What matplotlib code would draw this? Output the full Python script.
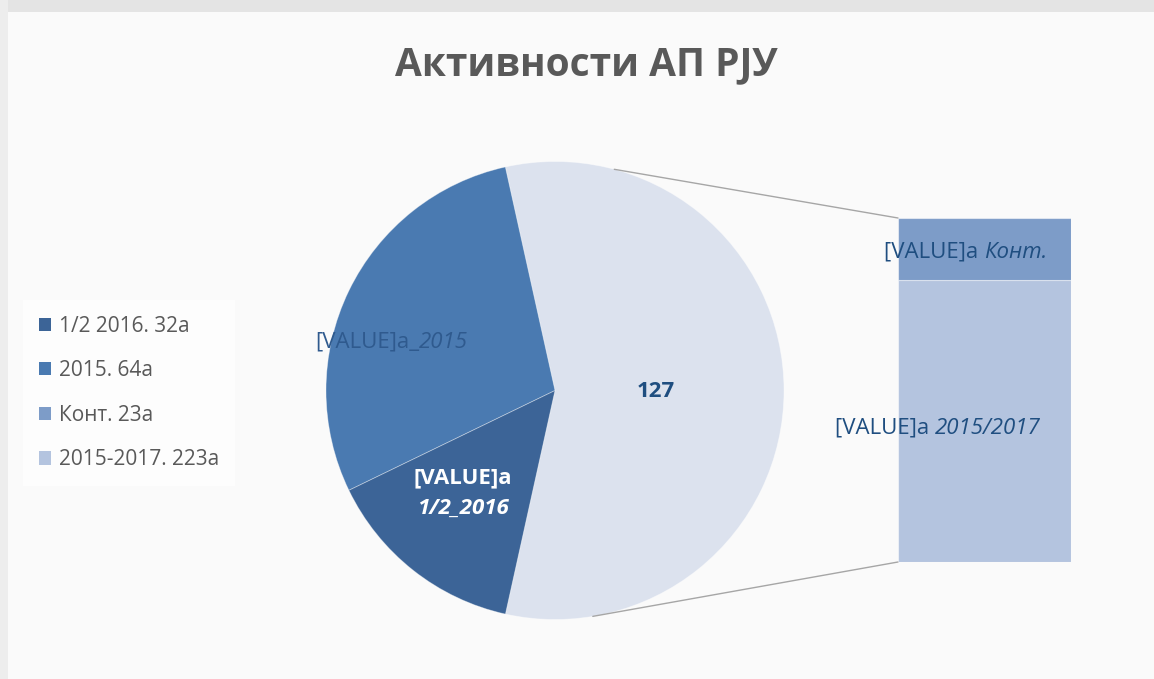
import matplotlib
matplotlib.use("Agg")
import matplotlib.pyplot as plt
from matplotlib.patches import Rectangle, ConnectionPatch, Patch
import numpy as np

plt.rcParams['font.family'] = ['Open Sans', 'DejaVu Sans']

# Data
title = "Активности АП РЈУ"
pie_labels = ["2015-2017", "2015", "1/2 2016"]
pie_values = [127, 64, 32]
bar_labels = ["2015/2017", "Конт."]
bar_values = [104, 23]
legend_labels = ["1/2 2016. 32а", "2015. 64а", "Конт. 23а", "2015-2017. 223а"]

c_1216 = "#3C6497"
c_2015 = "#4A7AB1"
c_kont = "#7D9CC8"
c_bar = "#B4C4DF"
c_other = "#DCE2EE"
txt_blue = "#1F4E80"

W, H = 1154, 679
fig = plt.figure(figsize=(W / 100, H / 100), dpi=100)
fig.patch.set_facecolor("#E4E4E4")

def fx(px):
    return px / W

def fy(py):
    return 1 - py / H

# panel background (drawn in a background axes)
bg = fig.add_axes([0, 0, 1, 1], zorder=-5)
bg.set_xlim(0, W)
bg.set_ylim(H, 0)
bg.axis("off")
bg.add_patch(Rectangle((8, 12), W - 8, H - 12, facecolor="#FAFAFA", edgecolor="none"))
bg.add_patch(Rectangle((0, 0), 8, H, facecolor="#EDEDED", edgecolor="none"))

# Pie axes
cx, cy, r = 555, 390.5, 229
ax = fig.add_axes([fx(cx - r), fy(cy + r), 2 * r / W, 2 * r / H])
wedges, _ = ax.pie(pie_values, colors=[c_other, c_2015, c_1216], startangle=-102.5,
                   counterclock=True, radius=1.0,
                   wedgeprops=dict(linewidth=0.6, edgecolor=(1, 1, 1, 0.4)))
ax.set_xlim(-1, 1)
ax.set_ylim(-1, 1)
ax.set_aspect("auto")
ax.axis("off")

# Bar axes
bx0, bx1, by0, by1 = 898, 1071, 218, 562
bax = fig.add_axes([fx(bx0), fy(by1), (bx1 - bx0) / W, (by1 - by0) / H])
bottom = 0
bar_colors = [c_bar, c_kont]
for v, c in zip(bar_values, bar_colors):
    bax.bar(0, v, bottom=bottom, width=1.0, color=c, edgecolor=(1, 1, 1, 0.5), linewidth=0.8)
    bottom += v
bax.set_xlim(-0.5, 0.5)
bax.set_ylim(0, sum(bar_values))
bax.axis("off")

# Connectors
for ang, yb in [(75, 1), (-80.5, 0)]:
    a = np.deg2rad(ang)
    con = ConnectionPatch(xyA=(np.cos(a), np.sin(a)), coordsA=ax.transData,
                          xyB=(0, yb), coordsB=bax.transAxes,
                          color="#A6A6A6", linewidth=1.0, zorder=1)
    fig.add_artist(con)

# Title
fig.text(fx(586), fy(65), title, ha="center", va="center", fontsize=28,
         fontweight="bold", color="#595959")

FS = 16

# Labels on pie
t1 = fig.text(fx(315), fy(342), "[VALUE]а_", ha="left", va="center", fontsize=FS, color="#2F5A8E")
fig.add_artist(plt.Annotation("2015", xy=(1, 0.5), xycoords=t1, va="center", ha="left",
                              fontsize=FS, color="#2F5A8E", style="italic"))

fig.text(fx(463), fy(478), "[VALUE]а", ha="center", va="center", fontsize=FS,
         color="white", fontweight="bold")
fig.text(fx(463), fy(508), "1/2_2016", ha="center", va="center", fontsize=FS,
         color="white", fontweight="bold", style="italic")

fig.text(fx(656), fy(392), str(pie_values[0]), ha="center", va="center", fontsize=FS,
         color=txt_blue, fontweight="bold")

# Labels on bar
t3 = fig.text(fx(884), fy(252), "[VALUE]а ", ha="left", va="center", fontsize=FS, color=txt_blue)
fig.add_artist(plt.Annotation("Конт.", xy=(1, 0.5), xycoords=t3, va="center", ha="left",
                              fontsize=FS, color=txt_blue, style="italic"))
t4 = fig.text(fx(835), fy(428), "[VALUE]а ", ha="left", va="center", fontsize=FS, color=txt_blue)
fig.add_artist(plt.Annotation("2015/2017", xy=(1, 0.5), xycoords=t4, va="center", ha="left",
                              fontsize=FS, color=txt_blue, style="italic"))

# Legend
handles = [Patch(facecolor=c, edgecolor="none") for c in [c_1216, c_2015, c_kont, c_bar]]
leg = fig.legend(handles, legend_labels, loc="upper left",
                 bbox_to_anchor=(fx(23), fy(300)), frameon=True, fancybox=False,
                 fontsize=15, labelcolor="#595959", handlelength=0.6, handleheight=0.6,
                 handletextpad=0.4, labelspacing=1.13, borderpad=0.75, borderaxespad=0)
leg.get_frame().set_facecolor("white")
leg.get_frame().set_edgecolor("none")

fig.savefig("out.png", dpi=100, facecolor=fig.get_facecolor())
